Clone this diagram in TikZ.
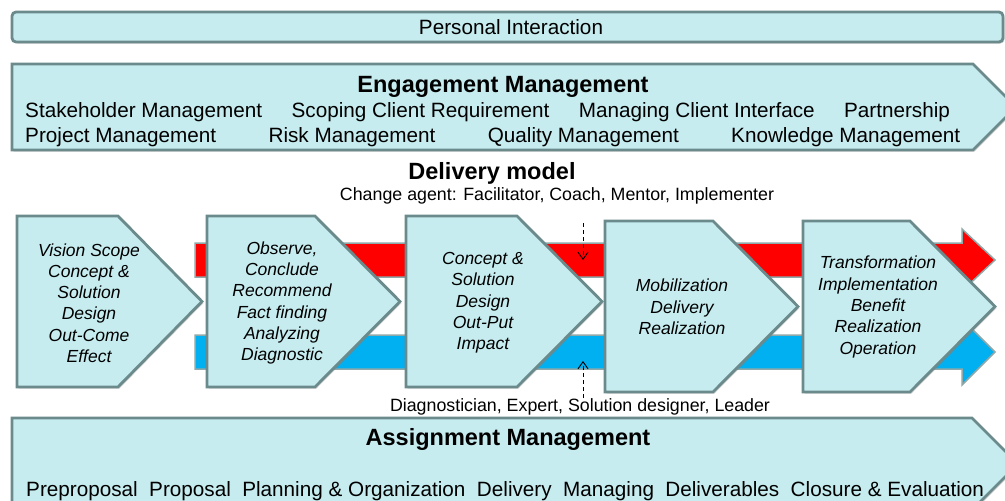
\documentclass[tikz,border=0pt]{standalone}
\usepackage{fontspec}
\setmainfont{Liberation Sans}
\usetikzlibrary{positioning,arrows.meta,shadows}

\definecolor{stagefill}{HTML}{C6ECEF}
\definecolor{stageedge}{HTML}{6B8A8C}
\definecolor{bandred}{HTML}{FF0000}
\definecolor{bandblue}{HTML}{00B0F0}
\definecolor{bandedge}{HTML}{8FA8A9}

\tikzset{
  bevel/.style={fill=stagefill,draw=stageedge,line width=2.8pt,
    drop shadow={shadow xshift=1.5pt,shadow yshift=-1.5pt,opacity=.35}},
  band/.style={draw=bandedge,line width=1.5pt},
  item/.style={inner sep=0pt,font=\fontsize{20.7}{24}\selectfont},
  heading/.style={inner sep=0pt,font=\fontsize{23.5}{28}\selectfont\bfseries},
  note/.style={inner sep=0pt,font=\fontsize{17.8}{21}\selectfont},
  stagetext/.style={align=center,inner sep=0pt,font=\fontsize{17.5}{21.3}\selectfont\itshape},
  hint/.style={line width=0.9pt,dash pattern=on 4pt off 3pt,
    -{Straight Barb[length=7pt,width=10pt,line width=0.9pt]}}
}

\begin{document}
\begin{tikzpicture}[x=1pt,y=-1pt]
  \clip (0,0) rectangle (1005,501);
  \fill[white] (0,0) rectangle (1005,501);

  % personal interaction bar
  \draw[bevel,rounded corners=4pt] (12,12) rectangle (1003,42);
  \node[item,name=pi,anchor=base] at (511,34) {Personal Interaction};

  % engagement management
  \draw[bevel] (12,64) -- (973,64) -- (1016,107) -- (973,150) -- (12,150) -- cycle;
  \node[heading,name=eng,anchor=base] at (503,92) {Engagement Management};
  \node[item,name=stake,anchor=base west] at (25,117) {Stakeholder Management};
  \node[item,name=scope,base right=29pt of stake] {Scoping Client Requirement};
  \node[item,name=iface,base right=29pt of scope] {Managing Client Interface};
  \node[item,name=partner,base right=29pt of iface] {Partnership};
  \node[item,name=proj,anchor=base west] at (25,142) {Project Management};
  \node[item,name=risk,base right=52pt of proj] {Risk Management};
  \node[item,name=quality,base right=52pt of risk] {Quality Management};
  \node[item,name=know,base right=52pt of quality] {Knowledge Management};

  % delivery model
  \node[heading,name=dm,anchor=base] at (492,179) {Delivery model};
  \node[note,name=agent,anchor=base] at (557,200) {Change agent: Facilitator, Coach, Mentor, Implementer};

  \draw[band,fill=bandred] (195,243) -- (962,243) -- (962,229) -- (995,260)
     -- (962,291) -- (962,277) -- (195,277) -- cycle;
  \draw[band,fill=bandblue] (195,335) -- (962,335) -- (962,319) -- (995,352)
     -- (962,385) -- (962,369) -- (195,369) -- cycle;

  \draw[bevel] (17,216) -- (118,216) -- (202,301.5) -- (118,387) -- (17,387) -- cycle;
  \draw[bevel] (207,216) -- (315,216) -- (400,301.5) -- (315,387) -- (207,387) -- cycle;
  \draw[bevel] (406,216) -- (517,216) -- (602,301.5) -- (517,387) -- (406,387) -- cycle;
  \draw[bevel] (605,221) -- (713,221) -- (798,306.5) -- (713,392) -- (605,392) -- cycle;
  \draw[bevel] (803,221) -- (910,221) -- (995,306.5) -- (910,392) -- (803,392) -- cycle;

  \node[stagetext,name=vision] at (89,303) {Vision Scope\\Concept \&\\Solution\\Design\\Out-Come\\Effect};
  \node[stagetext,name=observe] at (282,303) {Observe,\\Conclude\\Recommend\\Fact finding\\Analyzing\\Diagnostic};
  \node[stagetext,name=concept] at (483,303) {Concept \&\\Solution\\Design\\Out-Put\\Impact};
  \node[stagetext,name=mobil] at (682,307) {Mobilization\\Delivery\\Realization};
  \node[stagetext,name=transf] at (878,307) {Transformation\\Implementation\\Benefit\\Realization\\Operation};

  \coordinate (hinttop) at (583,223);
  \coordinate (redmid) at (583,260);
  \coordinate (hintbot) at (583,398);
  \coordinate (bluemid) at (583,361);
  \draw[hint] (hinttop) -- (redmid);
  \draw[hint] (hintbot) -- (bluemid);

  \node[note,name=roles,anchor=base] at (580,411) {Diagnostician, Expert, Solution designer, Leader};

  % assignment management
  \draw[bevel] (12,418) -- (972,418) -- (1018,464) -- (972,510) -- (12,510) -- cycle;
  \node[heading,name=asg,anchor=base] at (508,445) {Assignment Management};
  \node[item,name=prep,anchor=base west] at (26,496) {Preproposal};
  \node[item,name=prop,base right=11pt of prep] {Proposal};
  \node[item,name=plan,base right=11pt of prop] {Planning \& Organization};
  \node[item,name=deliv,base right=11pt of plan] {Delivery};
  \node[item,name=manag,base right=11pt of deliv] {Managing};
  \node[item,name=dlvb,base right=11pt of manag] {Deliverables};
  \node[item,name=closure,base right=11pt of dlvb] {Closure \& Evaluation};
\end{tikzpicture}
\end{document}
